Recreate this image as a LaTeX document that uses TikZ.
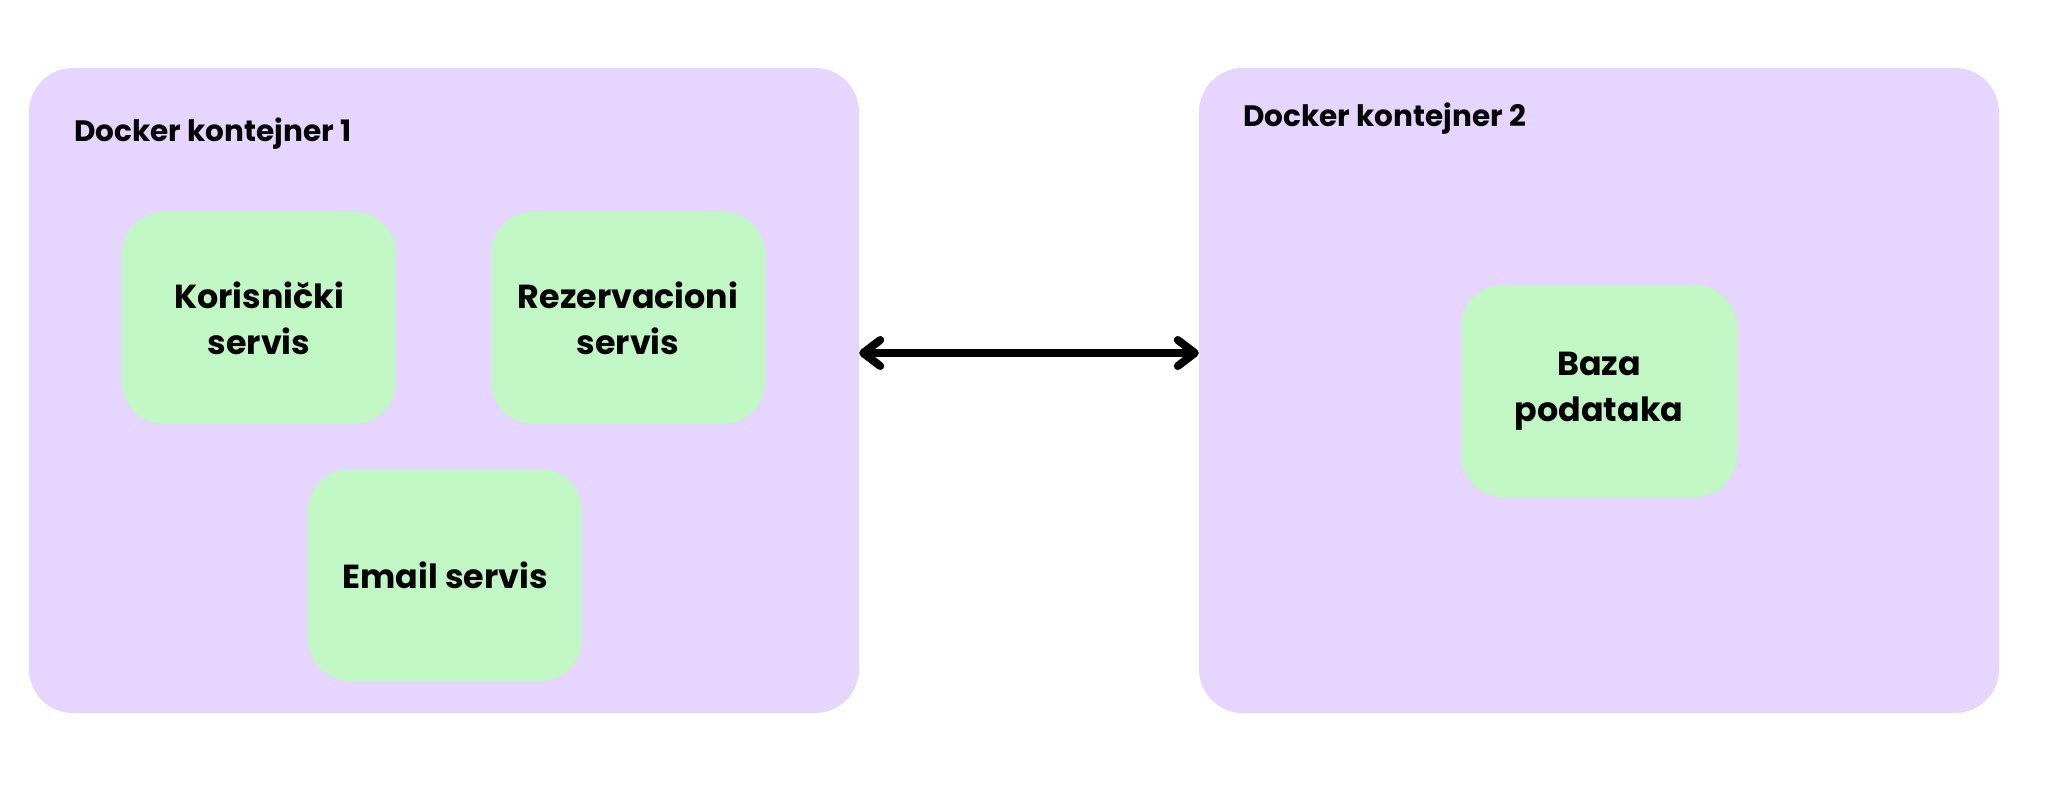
\documentclass[tikz,border=0pt]{standalone}
\usepackage{fontspec}
\setmainfont{Poppins}
\usetikzlibrary{arrows.meta}
\definecolor{lav}{RGB}{229,213,255}
\definecolor{mint}{RGB}{192,247,196}
\begin{document}
\begin{tikzpicture}[x=1pt,y=-1pt,
  container/.style={fill=lav, draw=none, rounded corners=44pt, inner sep=0pt},
  svc/.style={fill=mint, draw=none, rounded corners=42pt, minimum width=274pt, minimum height=212pt,
    align=center, inner sep=0pt, font=\fontsize{33.3}{46}\selectfont\bfseries},
  ttl/.style={anchor=base west, inner sep=0pt, font=\fontsize{29.5}{38}\selectfont\bfseries},
  conn/.style={line width=8pt, line cap=round,
    {Straight Barb[length=17pt,width=26pt,line cap=round,line join=round]}-{Straight Barb[length=17pt,width=26pt,line cap=round,line join=round]}}]
\useasboundingbox (0,0) rectangle (2054,788);
\node[container, minimum width=830pt, minimum height=645pt] (c1) at (444,390.5) {};
\node[container, minimum width=800pt, minimum height=645pt] (c2) at (1599,390.5) {};
\node[ttl] (t1) at (74,141) {Docker kontejner 1};
\node[ttl] (t2) at (1243,126) {Docker kontejner 2};
\node[svc] (k) at (259,318) {Korisnički\\servis};
\node[svc] (r) at (628,318) {Rezervacioni\\servis};
\node[svc] (e) at (445,575) {Email servis};
\node[svc, minimum width=276pt] (b) at (1599,391) {Baza\\podataka};
\coordinate (a1) at (c1.east |- 0,353);
\coordinate (a2) at (c2.west |- 0,353);
\draw[conn] (a1) -- (a2);
\end{tikzpicture}
\end{document}
